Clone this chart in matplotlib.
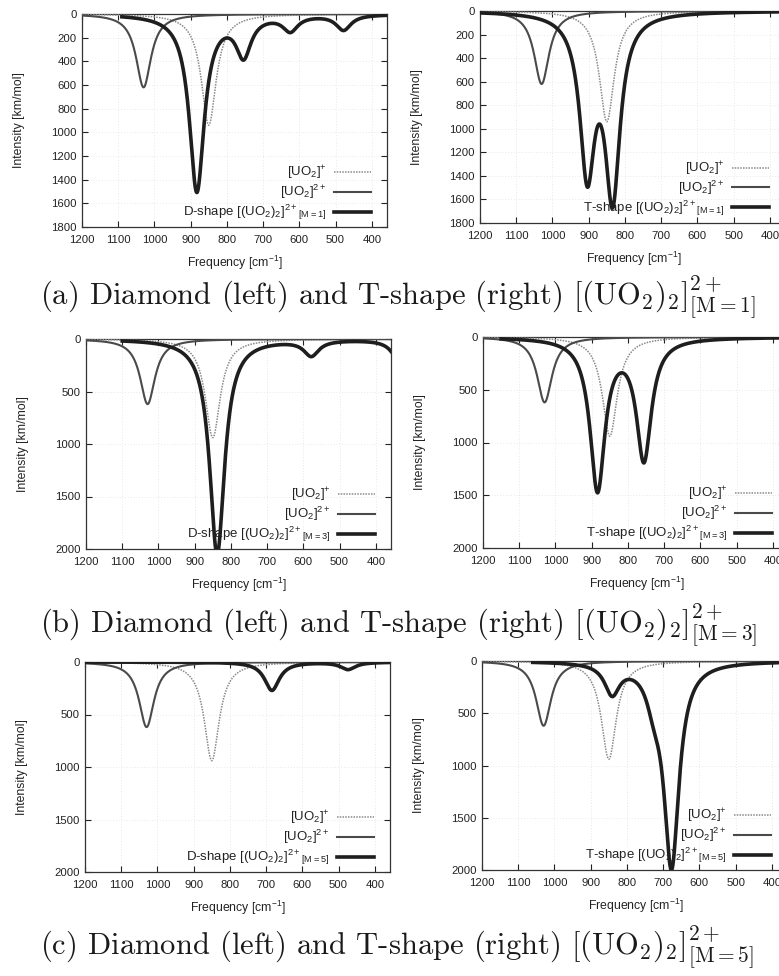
import numpy as np
import matplotlib
matplotlib.use("Agg")
import matplotlib.pyplot as plt
from matplotlib.transforms import blended_transform_factory

plt.rcParams['font.family'] = ['Liberation Sans', 'DejaVu Sans']
plt.rcParams['mathtext.fontset'] = 'custom'
plt.rcParams['mathtext.rm'] = 'Liberation Sans'
plt.rcParams['mathtext.it'] = 'Liberation Sans:italic'
plt.rcParams['mathtext.bf'] = 'Liberation Sans:bold'

# ---------------- data (peak positions [cm^-1] and peak heights [km/mol]) -------------
uo2p_freq = [850]
uo2p_int = [940]
uo2_2p_freq = [1030]
uo2_2p_int = [620]

d1_freq = [883, 754, 625, 478]
d1_int = [1495, 330, 128, 128]
t1_freq = [904, 834]
t1_int = [1322, 1523]
d3_freq = [838, 578, 330]
d3_int = [2050, 147, 250]
t3_freq = [884, 756]
t3_int = [1435, 1141]
d5_freq = [684, 474]
d5_int = [270, 69]
t5_freq = [841, 725, 677]
t5_int = [285, 250, 1940]

complex_freqs = [[d1_freq, t1_freq], [d3_freq, t3_freq], [d5_freq, t5_freq]]
complex_ints = [[d1_int, t1_int], [d3_int, t3_int], [d5_int, t5_int]]
complex_start = [[1090, 1200], [1100, 1150], [1200, 1060]]
complex_labels = [
    [r'D-shape [(UO$_2$)$_2$]$^{2+}{}_{\mathrm{[M=1]}}$', r'T-shape [(UO$_2$)$_2$]$^{2+}{}_{\mathrm{[M=1]}}$'],
    [r'D-shape [(UO$_2$)$_2$]$^{2+}{}_{\mathrm{[M=3]}}$', r'T-shape [(UO$_2$)$_2$]$^{2+}{}_{\mathrm{[M=3]}}$'],
    [r'D-shape [(UO$_2$)$_2$]$^{2+}{}_{\mathrm{[M=5]}}$', r'T-shape [(UO$_2$)$_2$]$^{2+}{}_{\mathrm{[M=5]}}$'],
]
ref_labels = [r'[UO$_2$]$^{+}$', r'[UO$_2$]$^{2+}$']
row_ymax = [1800, 2000, 2000]
row_ystep = [200, 500, 500]
xticks = [1200, 1100, 1000, 900, 800, 700, 600, 500, 400]
captions = [
    r'(a) Diamond (left) and T-shape (right) $[(\mathrm{UO}_2)_2]^{2+}_{[\mathrm{M}=1]}$',
    r'(b) Diamond (left) and T-shape (right) $[(\mathrm{UO}_2)_2]^{2+}_{[\mathrm{M}=3]}$',
    r'(c) Diamond (left) and T-shape (right) $[(\mathrm{UO}_2)_2]^{2+}_{[\mathrm{M}=5]}$',
]

GAMMA = 25.0  # Lorentzian half width at half maximum (broadening)


def spectrum(x, freqs, ints):
    y = np.zeros_like(x)
    for f, h in zip(freqs, ints):
        y += h * GAMMA ** 2 / ((x - f) ** 2 + GAMMA ** 2)
    return y


# ---------------- layout ----------------
W, H = 779, 976
fig = plt.figure(figsize=(W / 100, H / 100), dpi=100)
fig.patch.set_facecolor('white')

boxes = [
    [(82, 14, 387, 227), (480, 11, 788, 223)],
    [(86, 339, 391, 549), (483, 337, 791, 548)],
    [(85, 662, 390, 872), (482, 661, 790, 870)],
]
xlims = [(1200, 358), (1200, 350)]
caption_y = [305, 633, 955]

styles = [
    dict(color='#8a8a8a', lw=1.1, ls=(0, (1, 0.8))),
    dict(color='#4a4a4a', lw=1.5, ls='-'),
    dict(color='#1e1e1e', lw=2.6, ls='-'),
]
leg_y_px = [55, 35.5, 15.5]

for r in range(3):
    for c in range(2):
        l, t, rr, b = boxes[r][c]
        wpx, hpx = rr - l, b - t
        ax = fig.add_axes([l / W, 1 - b / H, wpx / W, hpx / H])
        x0, x1 = xlims[c]
        x_full = np.linspace(1200, x1, 2000)
        ax.plot(x_full, spectrum(x_full, uo2p_freq, uo2p_int), zorder=3, **styles[0])
        ax.plot(x_full, spectrum(x_full, uo2_2p_freq, uo2_2p_int), zorder=4, **styles[1])
        xc = np.linspace(complex_start[r][c], x1, 2000)
        ax.plot(xc, spectrum(xc, complex_freqs[r][c], complex_ints[r][c]), zorder=5, **styles[2])

        ax.set_xlim(x0, x1)
        ax.set_ylim(row_ymax[r], 0)
        ax.set_xticks(xticks)
        ax.set_yticks(np.arange(0, row_ymax[r] + 1, row_ystep[r]))
        ax.tick_params(direction='in', top=True, right=True, length=4, width=0.8,
                       labelsize=8.2, colors='#222222')
        ax.tick_params(axis='x', pad=5.5)
        ax.tick_params(axis='y', pad=4)
        ax.grid(True, color='#d4d4d4', lw=0.5, ls=(0, (1, 3)))
        ax.set_axisbelow(True)
        for sp in ax.spines.values():
            sp.set_color('#333333')
            sp.set_linewidth(0.9)

        ax.set_xlabel(r'Frequency [cm$^{-1}$]', fontsize=8.8, color='#222222')
        ax.set_ylabel('Intensity [km/mol]', fontsize=8.8, color='#222222')
        ax.xaxis.set_label_coords(0.5, -27 / hpx)
        ax.yaxis.set_label_coords(-57 / wpx, 0.5)

        # legend (gnuplot style: right-aligned text, sample line to the right)
        trans = blended_transform_factory(ax.transData, ax.transAxes)
        labels = ref_labels + [complex_labels[r][c]]
        for i, (lab, st) in enumerate(zip(labels, styles)):
            yy = leg_y_px[i] / hpx
            ax.plot([505, 403], [yy, yy], transform=trans, zorder=6, **st)
            ax.text(525, yy - 4.5 / hpx, lab, transform=trans, ha='right', va='baseline',
                    fontsize=9.5, color='#222222', zorder=6)

    fig.text(40 / W, 1 - caption_y[r] / H, captions[r], fontfamily='cmr10', math_fontfamily='cm',
             fontsize=22, ha='left', va='baseline', color='#1a1a1a')

fig.savefig('out.png', dpi=100)
